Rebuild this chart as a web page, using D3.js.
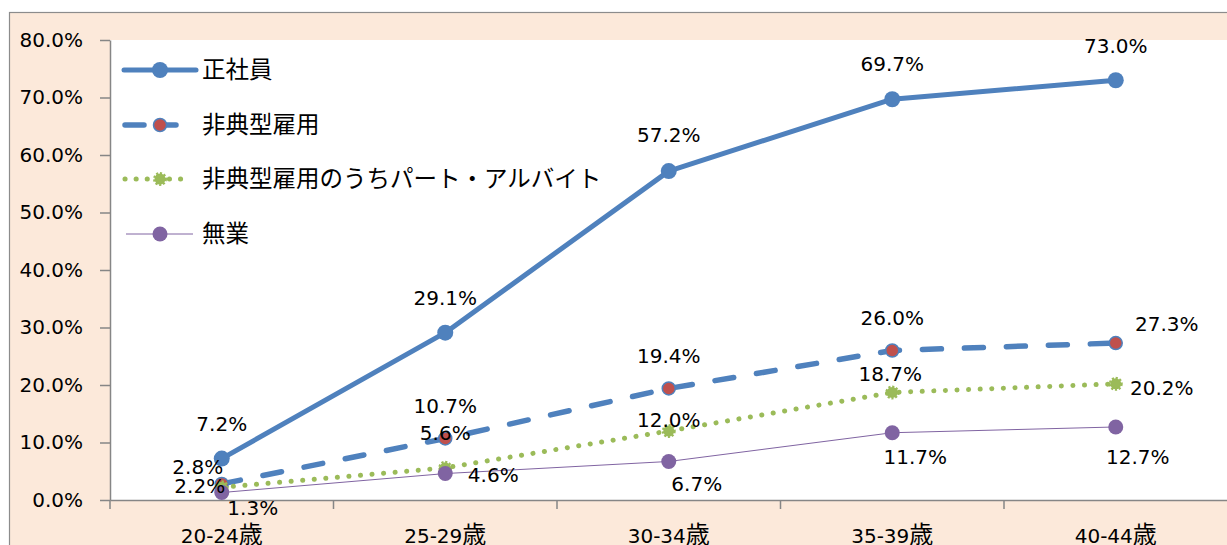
<!DOCTYPE html>
<html>
<head>
<meta charset="utf-8">
<script src="https://cdn.jsdelivr.net/npm/d3@7/dist/d3.min.js"></script>
<style>
  html, body { margin: 0; padding: 0; background: #ffffff; }
  svg { display: block; }
  text { font-family: "DejaVu Sans", "Noto Sans CJK JP", sans-serif; fill: #000; }
  .jp { font-family: "Noto Sans CJK JP", sans-serif; }
</style>
</head>
<body>
<svg id="chart" width="1227" height="545"></svg>
<script>
// ---- data ----
const categories = ["20-24歳", "25-29歳", "30-34歳", "35-39歳", "40-44歳"];
const seriesNames = ["正社員", "非典型雇用", "非典型雇用のうちパート・アルバイト", "無業"];
const seiShain = [7.2, 29.1, 57.2, 69.7, 73.0];
const hitenkei = [2.8, 10.7, 19.4, 26.0, 27.3];
const partArbeit = [2.2, 5.6, 12.0, 18.7, 20.2];
const mugyo = [1.3, 4.6, 6.7, 11.7, 12.7];
const yTicks = [0, 10, 20, 30, 40, 50, 60, 70, 80];

// ---- label offsets (style, not data) ----
const labelOffsets = [
  [[0, -35], [0, -35], [0, -36], [0, -35], [0, -34]],
  [[-24, -17], [0, -33], [0, -33], [0, -33], [51, -19]],
  [[-22, -2], [0, -35], [0, -11], [-2, -19], [46, 4]],
  [[31, 15], [48, 1], [28, 22], [23, 24], [22, 30]]
];

const W = 1227, H = 545;
const plot = { left: 110, right: 1227.5, top: 40, bottom: 500 };
const svg = d3.select("#chart");

// outer frame
svg.append("rect").attr("x", 9.5).attr("y", 12.5).attr("width", W).attr("height", H)
  .attr("fill", "#FCE9DA").attr("stroke", "#8C8C8C").attr("stroke-width", 1.2);
// plot area
svg.append("rect").attr("x", plot.left).attr("y", plot.top)
  .attr("width", plot.right - plot.left).attr("height", plot.bottom - plot.top)
  .attr("fill", "#ffffff");

const x = d3.scaleBand().domain(categories).range([plot.left, plot.right]).padding(0);
const y = d3.scaleLinear().domain([0, 80]).range([plot.bottom, plot.top]);
const cx = c => x(c) + x.bandwidth() / 2;

// y axis
const yAxis = svg.append("g").attr("transform", `translate(${plot.left},0)`)
  .call(d3.axisLeft(y).tickValues(yTicks).tickSize(10).tickSizeOuter(0).tickPadding(17)
    .tickFormat(d => d.toFixed(1) + "%"));
yAxis.select(".domain").attr("stroke", "#868686").attr("stroke-width", 1.5);
yAxis.selectAll(".tick line").attr("stroke", "#868686").attr("stroke-width", 1.5);
yAxis.selectAll(".tick text").attr("font-size", 20).attr("fill", "#000")
  .style("font-family", '"DejaVu Sans", sans-serif');

// x axis
const xAxis = svg.append("g").attr("transform", `translate(0,${plot.bottom})`)
  .call(d3.axisBottom(x).tickSize(0).tickSizeOuter(0).tickPadding(0));
xAxis.select(".domain").attr("stroke", "#868686").attr("stroke-width", 1.5);
xAxis.selectAll(".tick text").remove();
// boundary ticks
xAxis.selectAll("line.bnd").data(categories).enter().append("line").attr("class", "bnd")
  .attr("x1", d => x(d)).attr("x2", d => x(d)).attr("y1", 0).attr("y2", 9)
  .attr("stroke", "#868686").attr("stroke-width", 1.5);
xAxis.selectAll("text.cat").data(categories).enter().append("text").attr("class", "cat")
  .attr("x", d => cx(d)).attr("y", 43).attr("text-anchor", "middle").attr("font-size", 20)
  .each(function(d) {
    const t = d3.select(this);
    t.append("tspan").text(d.replace("歳", ""));
    t.append("tspan").attr("class", "jp").attr("font-size", 24).text("歳");
  });

// series styles
const styles = [
  { data: seiShain, color: "#4F81BD", width: 5, dash: null, cap: "round", marker: "circle", mr: 8, mfill: "#4F81BD", mstroke: "#4F81BD" },
  { data: hitenkei, color: "#4F81BD", width: 5.5, dash: "19 23", cap: "round", marker: "circle", mr: 6.5, mfill: "#C0504D", mstroke: "#4F81BD" },
  { data: partArbeit, color: "#9BBB59", width: 5, dash: "0.1 11.5", cap: "round", marker: "fuzzy", mr: 7, mfill: "#9BBB59", mstroke: "#9BBB59" },
  { data: mugyo, color: "#8064A2", width: 1, dash: null, cap: "butt", marker: "circle", mr: 7.5, mfill: "#8064A2", mstroke: "#8064A2" }
];

const line = d3.line().x((d, i) => cx(categories[i])).y(d => y(d));

function drawMarker(g, s, px, py) {
  if (s.marker === "fuzzy") {
    g.append("circle").attr("cx", px).attr("cy", py).attr("r", s.mr - 1.5)
      .attr("fill", s.mfill);
    g.append("circle").attr("cx", px).attr("cy", py).attr("r", s.mr - 1.5)
      .attr("fill", "none").attr("stroke", s.mstroke).attr("stroke-width", 3)
      .attr("stroke-dasharray", "2 1.6");
  } else {
    g.append("circle").attr("cx", px).attr("cy", py).attr("r", s.mr)
      .attr("fill", s.mfill).attr("stroke", s.mstroke)
      .attr("stroke-width", s.mfill === s.mstroke ? 0 : 1.5);
  }
}

styles.forEach(s => {
  const g = svg.append("g");
  g.append("path").datum(s.data).attr("d", line).attr("fill", "none")
    .attr("stroke", s.color).attr("stroke-width", s.width)
    .attr("stroke-linecap", s.cap).attr("stroke-linejoin", "round")
    .attr("stroke-dasharray", s.dash);
  s.data.forEach((v, i) => drawMarker(g, s, cx(categories[i]), y(v)));
});

// data labels
styles.forEach((s, si) => {
  svg.append("g").selectAll("text").data(s.data).enter().append("text")
    .attr("x", (d, i) => cx(categories[i]) + labelOffsets[si][i][0])
    .attr("y", (d, i) => y(d) + labelOffsets[si][i][1])
    .attr("dy", "0.36em").attr("text-anchor", "middle").attr("font-size", 20)
    .text(d => d.toFixed(1) + "%");
});

// legend
const legendRows = [70, 125, 179, 234];
const lg = svg.append("g");
styles.forEach((s, i) => {
  const ly = legendRows[i];
  const g = lg.append("g");
  let x1 = 124, x2 = 196;
  if (i === 1) { x1 = 125; x2 = 187; }
  if (i === 2) { x1 = 125; x2 = 189; }
  if (i === 3) { x1 = 126; x2 = 193; }
  g.append("line").attr("x1", x1).attr("x2", x2).attr("y1", ly).attr("y2", ly)
    .attr("stroke", s.color).attr("stroke-width", s.width)
    .attr("stroke-linecap", s.cap)
    .attr("stroke-dasharray", i === 1 ? "19 13" : (i === 2 ? "0.1 11" : null));
  drawMarker(g, s, 160, ly);
  g.append("text").attr("class", "jp").attr("x", 202).attr("y", ly).attr("dy", "0.36em")
    .attr("font-size", 23.5).text(seriesNames[i]);
});
</script>
</body>
</html>
